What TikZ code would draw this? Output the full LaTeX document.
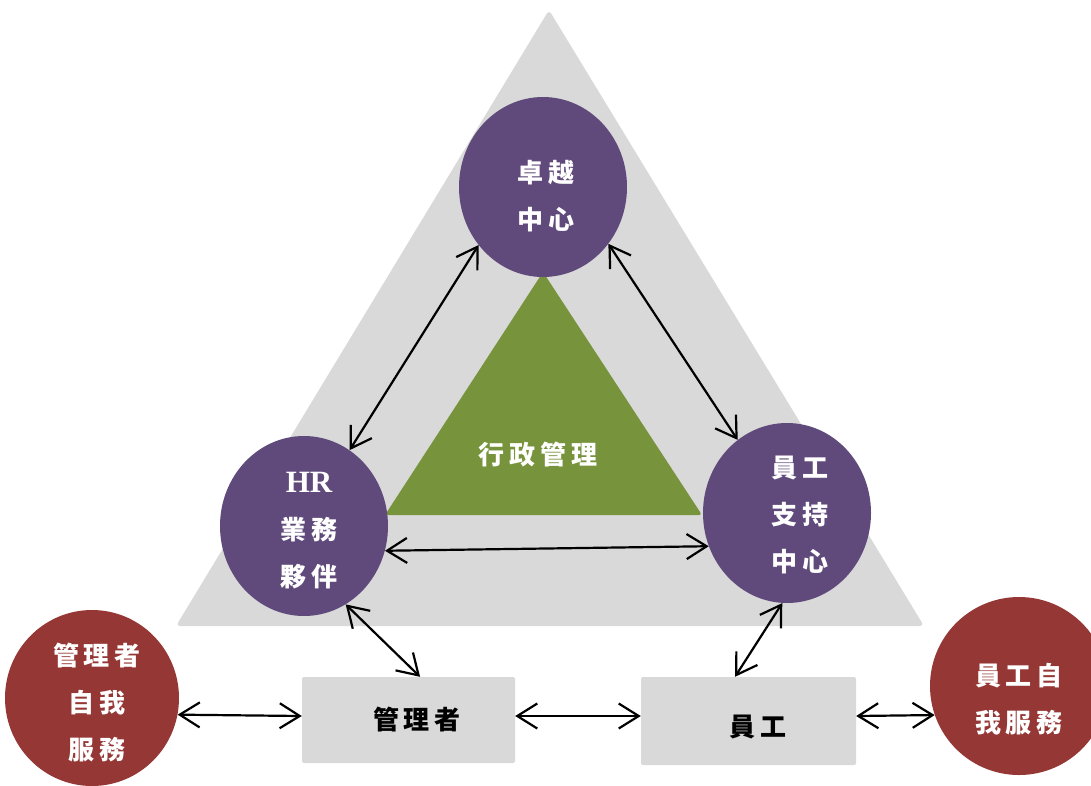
\documentclass[tikz,border=0pt]{standalone}
\usepackage{fontspec}
\newfontfamily\cjk[LetterSpace=18]{Noto Sans CJK TC}
\newfontfamily\serif{Liberation Serif}
\usetikzlibrary{shapes.geometric,arrows.meta,calc}
\definecolor{bggray}{HTML}{D9D9D9}
\definecolor{leaf}{HTML}{77933C}
\definecolor{plum}{HTML}{604A7B}
\definecolor{brick}{HTML}{953735}
\tikzset{
  circ/.style={ellipse,inner sep=0pt},
  purplecirc/.style={circ,fill=plum,minimum width=168pt,minimum height=180pt},
  redcirc/.style={circ,fill=brick,minimum width=174pt,minimum height=176pt},
  wtext/.style={text=white,align=center,inner sep=0pt,font=\cjk\bfseries\fontsize{26}{47}\selectfont},
  graybox/.style={rectangle,fill=bggray,rounded corners=2pt,inner sep=0pt},
  btext/.style={text=black,inner sep=0pt,font=\cjk\bfseries\fontsize{26}{30}\selectfont},
  barb/.tip={Straight Barb[length=20pt,width=25pt,line width=2.2pt]},
  link/.style={line width=2.2pt,barb-barb}
}
\begin{document}
\begin{tikzpicture}[x=1pt,y=-1pt]
\useasboundingbox (0,0) rectangle (1091,785);
\clip (0,0) rectangle (1091,785);
% big triangle
\fill[bggray,rounded corners=4pt] (549,10) -- (924,626) -- (176,626) -- cycle;
% green triangle
\fill[leaf,rounded corners=3pt] (543,272) -- (702,515) -- (385,515) -- cycle;
\node[wtext] (admin) at (538,455) {行政管理};
% purple circles
\node[purplecirc] (top) at (543,187) {};
\node[wtext] (topt) at (546,196) {卓越\\中心};
\node[purplecirc] (left) at (304,526) {};
\node[wtext] (leftt) at (309,531) {{\serif\bfseries\fontsize{31}{47}\selectfont HR}\\業務\\夥伴};
\node[purplecirc] (right) at (787,513) {};
\node[wtext] (rightt) at (800,515) {員工\\支持\\中心};
% red circles
\node[redcirc] (lred) at (92,698) {};
\node[wtext] (lredt) at (97,703) {管理者\\自我\\服務};
\node[redcirc,minimum width=178pt,minimum height=178pt] (rred) at (1019,686) {};
\node[wtext] (rredt) at (1019,699) {員工自\\我服務};
% boxes
\node[graybox,minimum width=213pt,minimum height=86pt] (mgr) at (408.5,720) {};
\node[btext] (mgrt) at (417,720) {管理者};
\node[graybox,minimum width=215pt,minimum height=88pt] (emp) at (748.5,721) {};
\node[btext] (empt) at (758,727) {員工};
% connectors
\draw[link] (top.222.6) -- (left.59.1);
\draw[link] (top.319.7) -- (right.124.7);
\draw[link] (left.343) -- (right.203.2);
\draw[link] (left.298.6) -- (mgr.75);
\draw[link] (right.267.4) -- (emp.107);
\draw[link] (lred.-11.8) -- ($(mgr.west)+(0,-4)$);
\draw[link] ($(mgr.east)+(0,-4)$) -- ($(emp.west)+(0,-5)$);
\draw[link] ($(emp.east)+(0,-5)$) -- (rred.199.7);
\end{tikzpicture}
\end{document}
